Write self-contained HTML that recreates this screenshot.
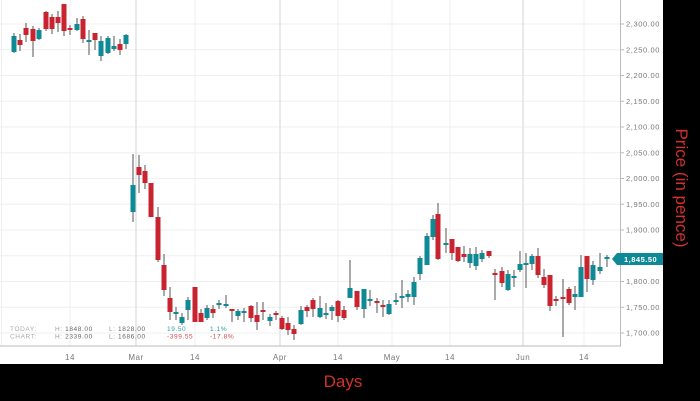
<!DOCTYPE html>
<html><head><meta charset="utf-8"><style>
html,body{margin:0;padding:0;background:#000;}
svg{display:block;}
</style></head><body>
<svg id="c" width="700" height="401" xmlns="http://www.w3.org/2000/svg" font-family="Liberation Sans, sans-serif">
<rect x="0" y="0" width="700" height="401" fill="#000"/>
<rect x="0" y="0" width="663" height="364" fill="#fff"/>
<g id="grid"></g>
<g id="cd"></g>
<line x1="0" y1="346" x2="621" y2="346" stroke="#bbb" stroke-width="1"/>
<line x1="620.5" y1="0" x2="620.5" y2="346" stroke="#bbb" stroke-width="1"/>
<g font-size="8" fill="#777" text-anchor="middle" letter-spacing="0.5">
<text x="70" y="360">14</text><text x="136" y="360">Mar</text><text x="195" y="360">14</text>
<text x="280" y="360">Apr</text><text x="338" y="360">14</text><text x="392" y="360">May</text>
<text x="450" y="360">14</text><text x="523" y="360">Jun</text><text x="584" y="360">14</text>
</g>
<g font-size="6.5" letter-spacing="0.6">
<text x="10" y="331" fill="#aaa">TODAY:</text><text x="10" y="338.5" fill="#aaa">CHART:</text>
<text x="55" y="331" fill="#999">H: <tspan fill="#666">1848.00</tspan></text>
<text x="55" y="338.5" fill="#999">H: <tspan fill="#666">2339.00</tspan></text>
<text x="109" y="331" fill="#999">L: <tspan fill="#666">1828.00</tspan></text>
<text x="109" y="338.5" fill="#999">L: <tspan fill="#666">1686.00</tspan></text>
<text x="167" y="331" fill="#2a9aa5">19.50</text><text x="210" y="331" fill="#2a9aa5">1.1%</text>
<text x="167" y="338.5" fill="#d04a55">-399.55</text><text x="210" y="338.5" fill="#d04a55">-17.8%</text>
</g>
<g id="yl" font-size="7.5" fill="#777" letter-spacing="0.6"></g>
<polygon points="612,259 617,253 663,253 663,265 617,265" fill="#0e8a96"/>
<text x="624" y="262" font-size="7.5" fill="#fff" font-weight="bold" letter-spacing="0.5">1,845.50</text>
<text x="343" y="387" font-size="17" fill="#d0312d" text-anchor="middle">Days</text>
<text transform="translate(676,188) rotate(90)" font-size="17" fill="#d0312d" text-anchor="middle">Price (in pence)</text>
</svg>
<script>
var NS="http://www.w3.org/2000/svg";
function el(p,t,a){var e=document.createElementNS(NS,t);for(var k in a)e.setAttribute(k,a[k]);p.appendChild(e);return e;}
var g=document.getElementById('grid'),yl=document.getElementById('yl');
for(var i=0;i<=12;i++){var y=333-i*25.75;el(g,'line',{x1:0,x2:620,y1:y,y2:y,stroke:'#efefef','stroke-width':1});
el(g,'line',{x1:620,x2:624,y1:y,y2:y,stroke:'#bbb','stroke-width':1});
var p=1700+i*50;var t=el(yl,'text',{x:626,y:y+2.7});t.textContent=(p/1000|0)+','+String(p%1000).padStart(3,'0')+'.00';}
[[70,0],[136,1],[195,0],[280,1],[338,0],[392,0],[450,0],[523,1],[584,0]].forEach(function(v){el(g,'line',{x1:v[0],x2:v[0],y1:0,y2:346,stroke:v[1]?'#e2e2e2':'#efefef','stroke-width':v[1]?1.5:1});});
el(g,'line',{x1:1.5,x2:1.5,y1:0,y2:346,stroke:'#eee'});
// x, color(t/r), bodyTop, bodyBot, wickTop, wickBot
var D=[[14,'t',36,52,33,53],[20,'r',40,45,34,51],[26,'r',28,35,23,42],[33,'r',29,41,26,57],[39,'t',30,39,28,40],[46,'r',12,29,11,31],[52,'r',17,29,14,34],[58,'r',17,23,11,32],[64,'r',4,31,4,36],[70,'r',28,30,25,35],[77,'t',24,30,18,31],[83,'r',19,39,16,43],[89,'t',40,41,30,55],[95,'r',33,40,33,50],[101,'t',41,56,36,61],[108,'t',38,53,36,54],[114,'t',46,49,36,51],[120,'r',44,50,39,55],[126,'t',35,44,34,49],
[133,'t',185,212,154,222],[139,'r',167,175,155,193],[145,'r',171,183,165,189],[151,'r',183,217,183,217],[158,'r',217,260,207,262],[164,'r',265,290,254,296],[170,'r',298,312,287,320],[176,'t',312,314,307,320],[182,'t',317,323,313,325],[188,'t',300,310,297,320],[195,'r',287,322,287,322],[201,'r',313,322,309,322],[207,'t',308,318,305,320],[213,'r',309,313,305,318],[219,'t',303,305,300,309],[226,'t',304,306,295,308],[232,'r',309,311,309,322],[238,'t',311,316,309,320],[244,'t',311,312,308,322],[251,'r',306,318,305,322],[257,'r',315,322,302,330],[263,'r',310,311,302,320],[270,'t',317,321,314,326],[276,'r',313,315,311,320],[282,'r',318,329,316,330],[288,'r',323,330,317,335],[294,'r',329,334,325,340],[301,'t',310,324,306,325],[307,'r',307,311,305,317],[313,'r',300,309,298,317],[320,'t',308,317,296,318],[326,'t',313,315,303,319],[332,'t',307,311,305,320],[338,'r',301,316,300,322],[344,'r',310,318,306,320],
[350,'t',288,298,260,298],[357,'r',291,307,291,310],[364,'t',289,309,289,318],[370,'t',299,301,290,306],[377,'r',301,303,298,313],[383,'r',305,306,300,317],[389,'t',304,314,300,315],[396,'t',300,302,293,305],[402,'t',296,298,280,308],[408,'t',294,297,290,302],[414,'t',282,297,277,305],[420,'t',258,274,256,280],[427,'t',236,265,233,265],[433,'t',219,237,215,240],[438,'r',214,259,203,260],[446,'t',243,245,228,253],[452,'r',239,253,239,260],[458,'r',247,261,247,262],[464,'r',254,257,246,262],[470,'t',254,263,248,268],[476,'t',254,266,247,270],[482,'t',253,259,250,262],[489,'r',251,256,251,258],[495,'r',273,274,269,300],[502,'r',271,283,267,287],[508,'t',274,290,270,291],[514,'t',276,277,270,287],[520,'t',264,270,251,272],[526,'t',263,264,253,288],[532,'t',256,264,254,270],[538,'r',256,275,248,278],[544,'r',277,285,269,288],[550,'r',275,306,275,311],[556,'r',299,300,296,306],[563,'r',297,299,279,337],[569,'r',289,303,287,305],[575,'t',294,297,286,310],[581,'t',267,297,255,297],[587,'r',256,279,256,292],[593,'t',265,280,261,285],[600,'t',267,271,253,274],[607,'t',257,259,255,267]];
var cd=document.getElementById('cd');
D.forEach(function(d){var c=d[1]=='t'?'#0e8a96':'#c8232f';
el(cd,'line',{x1:d[0],x2:d[0],y1:d[4],y2:d[5],stroke:'#555','stroke-width':1});
var h=Math.max(d[3]-d[2],2);el(cd,'rect',{x:d[0]-2.5,y:d[2],width:5,height:h,fill:c});});
</script>
</body></html>
